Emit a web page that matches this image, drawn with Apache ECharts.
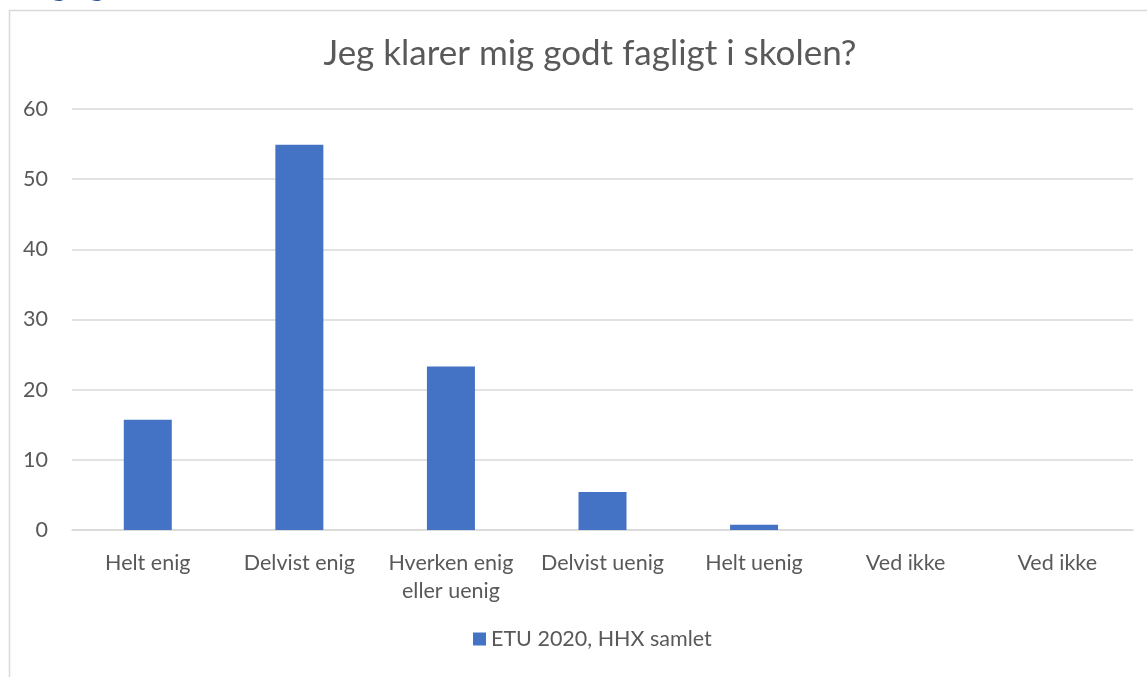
<!DOCTYPE html>
<html>
<head>
<meta charset="utf-8">
<script src="https://cdn.jsdelivr.net/npm/echarts@6/dist/echarts.min.js"></script>
<style>
  html, body { margin: 0; padding: 0; background: #fff; }
  #chart { width: 1147px; height: 677px; }
</style>
</head>
<body>
<div id="chart"></div>
<script>
// svar-kategorier
const categories = ["Helt enig", "Delvist enig", "Hverken enig\neller uenig", "Delvist uenig", "Helt uenig", "Ved ikke", "Ved ikke"];
// procent, ETU 2020 HHX samlet
const values = [15.7, 54.9, 23.3, 5.4, 0.75, 0, 0];
const yTicks = [0, 10, 20, 30, 40, 50, 60];

const chart = echarts.init(document.getElementById("chart"));
const font = "Lato, 'Open Sans', sans-serif";

const option = {
  backgroundColor: "#fff",
  animation: false,
  title: {
    text: "Jeg klarer mig godt fagligt i skolen?",
    left: 585,
    top: 31,
    textAlign: "center",
    textStyle: { fontFamily: font, fontSize: 35, fontWeight: "normal", color: "#595959" },
  },
  graphic: [
    {
      type: "rect",
      shape: { x: 9.5, y: 10.5, width: 1300, height: 900 },
      style: { fill: "none", stroke: "#d9d9d9", lineWidth: 1.5 },
      silent: true,
    },
    {
      type: "text",
      left: 50,
      top: -33,
      style: { text: "g", font: "34px Lato", fill: "#2f5597" },
      silent: true,
    },
    {
      type: "text",
      left: 88,
      top: -33,
      style: { text: "g", font: "34px Lato", fill: "#2f5597" },
      silent: true,
    },
  ],
  grid: { left: 72, right: 14, top: 109, bottom: 147 },
  legend: {
    bottom: 22,
    left: 468,
    data: ["ETU 2020, HHX samlet"],
    icon: "rect",
    itemWidth: 13,
    itemHeight: 13,
    itemGap: 10,
    textStyle: { fontFamily: font, fontSize: 21.5, color: "#595959" },
  },
  xAxis: {
    type: "category",
    data: categories,
    axisTick: { show: false },
    axisLine: { show: true, lineStyle: { color: "#d9d9d9", width: 1.5 } },
    axisLabel: { fontFamily: font, fontSize: 21.5, color: "#595959", margin: 19, lineHeight: 28, interval: 0 },
  },
  yAxis: {
    type: "value",
    min: 0,
    max: 60,
    interval: 10,
    axisLine: { show: false },
    axisTick: { show: false },
    splitLine: { lineStyle: { color: "#d9d9d9", width: 1.5 } },
    axisLabel: {
      fontFamily: font, fontSize: 21.5, color: "#595959", margin: 24,
      formatter: (v) => (yTicks.includes(v) ? String(v) : ""),
    },
  },
  series: [
    {
      name: "ETU 2020, HHX samlet",
      type: "bar",
      data: values,
      barWidth: 48,
      itemStyle: { color: "#4472c4" },
    },
  ],
};

chart.setOption(option);
</script>
</body>
</html>
